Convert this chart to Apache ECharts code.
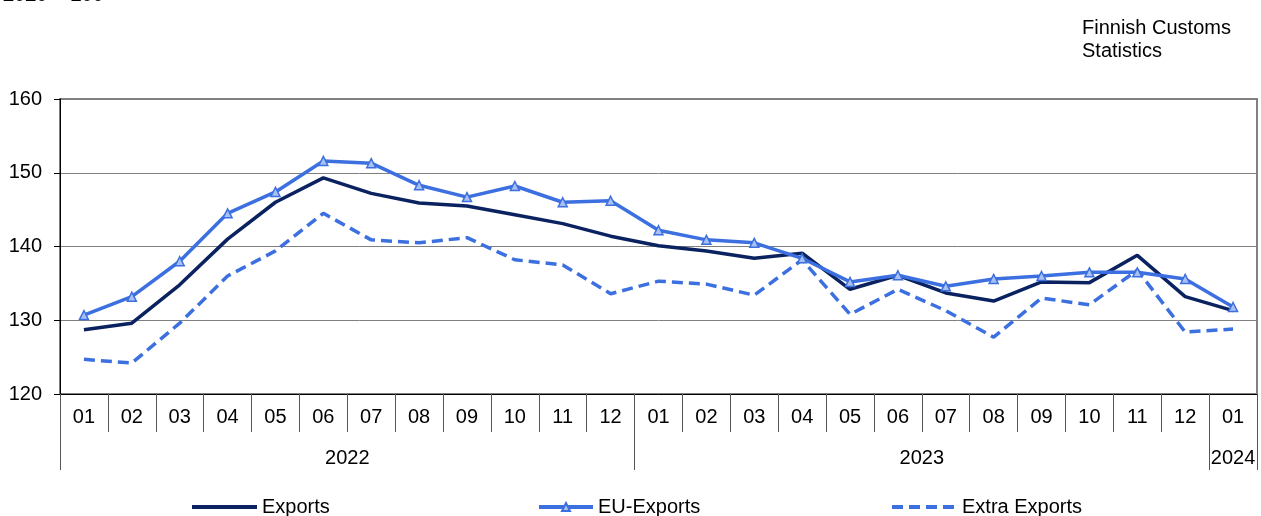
<!DOCTYPE html>
<html>
<head>
	<meta charset="UTF-8">
	<title>Exports index</title>
	<style type="text/css">
		html, body {
			margin: 0;
			padding: 0;
			background: #fff;
		}
		#chart {
			width: 1261px;
			height: 516px;
		}
	</style>
</head>
<body>
	<div id="chart"></div>

	<script type="text/javascript" src="https://cdn.jsdelivr.net/npm/echarts@6/dist/echarts.min.js"></script>
	<script type="text/javascript">
		// months shown on the axis, Jan 2022 .. Jan 2024
		var months = ['01','02','03','04','05','06','07','08','09','10','11','12',
			'01','02','03','04','05','06','07','08','09','10','11','12','01'];

		// year groups: label, first index, index after last
		var years = ['2022', '2023', '2024'];
		var yearStart = [0, 12, 24];
		var yearEnd = [12, 24, 25];

		var yTicks = [120, 130, 140, 150, 160];

		var exports = [128.7, 129.6, 134.8, 141.0, 146.0, 149.3, 147.2, 145.9, 145.5, 144.3, 143.1, 141.4,
			140.1, 139.4, 138.4, 139.1, 134.2, 136.1, 133.7, 132.6, 135.2, 135.1, 138.8, 133.2, 131.3];
		var euExports = [130.7, 133.2, 138.0, 144.5, 147.4, 151.6, 151.3, 148.3, 146.7, 148.2, 146.0, 146.2,
			142.2, 140.9, 140.5, 138.4, 135.2, 136.1, 134.6, 135.6, 136.0, 136.5, 136.5, 135.6, 131.8];
		var extraExports = [124.7, 124.2, 129.6, 136.0, 139.4, 144.5, 140.9, 140.5, 141.2, 138.2, 137.5, 133.6,
			135.3, 134.9, 133.4, 138.2, 130.8, 134.2, 131.3, 127.7, 133.0, 132.1, 136.8, 128.4, 128.8];

		var font = 'Liberation Sans, Arial, sans-serif';
		var fs = 20;

		var yearMid = years.map(function (y, i) { return (yearStart[i] + yearEnd[i]) / 2; });
		var yearEdges = yearStart.concat([yearEnd[yearEnd.length - 1]]);

		var chart = echarts.init(document.getElementById('chart'));

		var legendText = { fontSize: fs, color: '#000', fontFamily: font };

		var option = {
			animation: false,
			textStyle: { fontFamily: font },
			title: [
				{
					text: '2020 = 100',
					left: -2,
					top: -20,
					textStyle: { fontSize: fs, fontWeight: 'bold', color: '#000', fontFamily: font }
				},
				{
					text: 'Finnish Customs\nStatistics',
					left: 1077,
					top: 12,
					textStyle: { fontSize: fs, fontWeight: 'normal', color: '#000', lineHeight: 23, fontFamily: font }
				}
			],
			legend: [
				{
					data: [{ name: 'Exports', itemStyle: { opacity: 0 }, lineStyle: { width: 4 } }],
					left: 185, top: 492,
					itemWidth: 65, itemHeight: 10, itemGap: 6,
					textStyle: legendText
				},
				{
					data: [{ name: 'EU-Exports', lineStyle: { width: 4 } }],
					left: 532, top: 492,
					itemWidth: 54, itemHeight: 10, itemGap: 6,
					textStyle: legendText
				},
				{
					data: [{ name: 'Extra Exports', itemStyle: { opacity: 0 }, lineStyle: { width: 4 } }],
					left: 885, top: 492,
					itemWidth: 65, itemHeight: 10, itemGap: 6,
					textStyle: legendText
				}
			],
			grid: {
				left: 60,
				right: 4,
				top: 99,
				bottom: 122,
				show: true,
				borderColor: '#808080',
				borderWidth: 2
			},
			xAxis: [
				{
					type: 'category',
					data: months,
					boundaryGap: true,
					axisLine: { lineStyle: { color: '#000', width: 1 } },
					axisTick: { show: true, interval: 0, length: 38, lineStyle: { color: '#555' } },
					axisLabel: { interval: 0, fontSize: fs, color: '#000', margin: 13, fontFamily: font }
				},
				{
					type: 'value',
					position: 'bottom',
					min: 0,
					max: months.length,
					axisLine: { show: false },
					splitLine: { show: false },
					axisTick: { show: true, customValues: yearEdges, length: 76, lineStyle: { color: '#555' } },
					axisLabel: {
						customValues: yearMid,
						fontSize: fs,
						color: '#000',
						margin: 54,
						fontFamily: font,
						formatter: function (v) {
							var i = yearMid.indexOf(v);
							return i >= 0 ? years[i] : '';
						}
					}
				}
			],
			yAxis: {
				type: 'value',
				min: yTicks[0],
				max: yTicks[yTicks.length - 1],
				interval: 10,
				axisLine: { show: true, lineStyle: { color: '#000', width: 1 } },
				axisTick: { show: true, length: 6, lineStyle: { color: '#000' } },
				axisLabel: { fontSize: fs, color: '#000', margin: 18, fontFamily: font },
				splitLine: { lineStyle: { color: '#808080', width: 1 } }
			},
			series: [
				{
					name: 'Exports',
					type: 'line',
					data: exports,
					symbol: 'none',
					color: '#0b2260',
					lineStyle: { width: 3.5, color: '#0b2260' },
					z: 3
				},
				{
					name: 'EU-Exports',
					type: 'line',
					data: euExports,
					symbol: 'triangle',
					symbolSize: 9,
					color: '#3c6fdf',
					itemStyle: { color: '#a9c1f2', borderColor: '#3c6fdf', borderWidth: 1.5 },
					lineStyle: { width: 3.5, color: '#3c6fdf' },
					z: 4
				},
				{
					name: 'Extra Exports',
					type: 'line',
					data: extraExports,
					symbol: 'none',
					color: '#3c6fdf',
					lineStyle: { width: 3.5, color: '#3c6fdf', type: [11, 6] },
					z: 2
				}
			]
		};

		chart.setOption(option);
	</script>
</body>
</html>
